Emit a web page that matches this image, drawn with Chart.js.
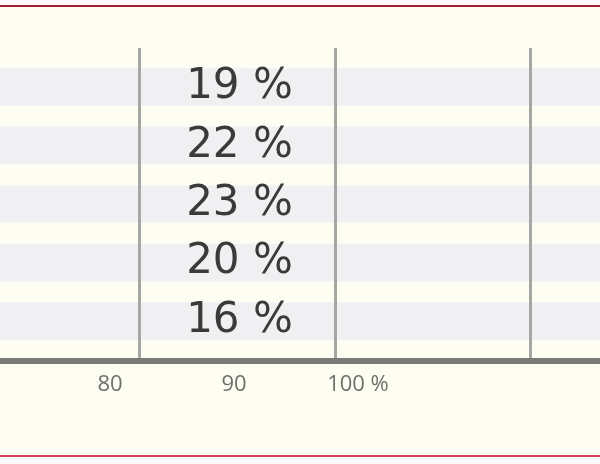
<!DOCTYPE html>
<html>
<head>
<meta charset="utf-8">
<script src="https://cdn.jsdelivr.net/npm/chart.js@4"></script>
<style>
  html, body { margin: 0; padding: 0; background: #fefafa; }
  #frame {
    position: absolute; left: 0; top: 5px; width: 600px; height: 448px;
    background: #fefdf1;
    border-top: 2px solid #a51d2e;
    border-bottom: 2px solid #d2455a;
  }
  #wrap { position: absolute; left: 0; top: 0; width: 600px; height: 464px; }
</style>
</head>
<body>
<div id="frame"></div>
<div id="wrap"><canvas id="chart"></canvas></div>
<script>
  // values
  var rows = [0, 1, 2, 3, 4];
  var shares = [19, 22, 23, 20, 16];          // % labels on the bands
  var bandEnd = [125, 125, 125, 125, 125];   // bands run past the right edge
  var axisTicks = [70, 80, 90, 100];
  var gridTicks = [1, 2, 3];

  var labelPlugin = {
    id: "bandLabels",
    afterDatasetsDraw: function (chart, args, opts) {
      var ctx = chart.ctx;
      var meta = chart.getDatasetMeta(0);
      ctx.save();
      ctx.font = opts.font;
      ctx.fillStyle = opts.color;
      ctx.textAlign = "center";
      ctx.textBaseline = "alphabetic";
      meta.data.forEach(function (bar, i) {
        ctx.fillText(shares[i] + " %", opts.x, bar.y + opts.dy);
      });
      ctx.restore();
    }
  };

  // keep the edge tick labels from pushing the plot inwards
  function noSidePadding(s) {
    s.paddingLeft = 0;
    s.paddingRight = 0;
  }

  new Chart(document.getElementById("chart"), {
    type: "bar",
    data: {
      datasets: [{
        data: rows.map(function (r, i) { return { x: bandEnd[i], y: r }; }),
        backgroundColor: "#f0f0f2",
        borderWidth: 0,
        barThickness: 37
      }]
    },
    options: {
      indexAxis: "y",
      responsive: true,
      maintainAspectRatio: false,
      animation: false,
      events: [],
      layout: { padding: { top: 48, left: 0, right: 0, bottom: 0 } },
      plugins: {
        legend: { display: false },
        tooltip: { enabled: false },
        bandLabels: { font: "42px 'DejaVu Sans'", color: "#3a3a3a", x: 239.5, dy: 11 }
      },
      scales: {
        y: {
          type: "linear",
          reverse: true,
          offset: false,
          min: -0.667,
          max: 4.684,
          display: false
        },
        x: {
          type: "linear",
          position: "bottom",
          min: 71.13,
          max: 119.52,
          afterBuildTicks: function (s) {
            s.ticks = axisTicks.map(function (v) { return { value: v }; });
          },
          afterFit: function (s) { s.height = 103; noSidePadding(s); },
          grid: { color: "transparent", drawTicks: false },
          border: { display: true, color: "#7a7a76", width: 6, z: 2 },
          ticks: {
            autoSkip: false,
            maxRotation: 0,
            padding: 11,
            color: "#6f6f6c",
            font: { family: "'Open Sans'", size: 22 },
            callback: function (v) { return v === 100 ? "100 %" : String(v); }
          }
        },
        x2: {
          type: "linear",
          position: "top",
          min: 0.284,
          max: 3.353,
          afterBuildTicks: function (s) {
            s.ticks = gridTicks.map(function (v) { return { value: v }; });
          },
          afterFit: function (s) { s.height = 0; noSidePadding(s); },
          grid: { color: "#a6a6a2", lineWidth: 3, drawTicks: false, z: 1 },
          border: { display: false },
          ticks: { display: false }
        }
      }
    },
    plugins: [labelPlugin]
  });
</script>
</body>
</html>
